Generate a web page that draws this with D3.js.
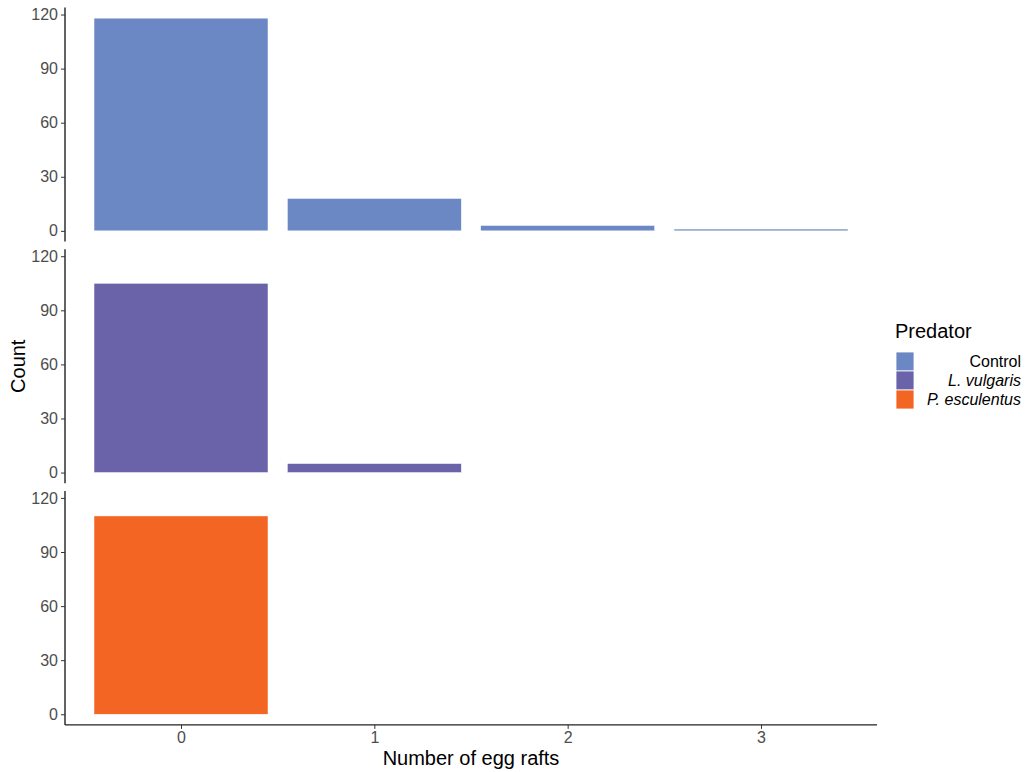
<!DOCTYPE html>
<html>
<head>
<meta charset="utf-8">
<script src="https://cdn.jsdelivr.net/npm/d3@7"></script>
<style>
  body { margin: 0; background: #fff; }
  svg { display: block; font-family: "Liberation Sans", Arial, sans-serif; }
</style>
</head>
<body>
<div id="chart"></div>
<script>
const rafts = ["0", "1", "2", "3"];
const predators = ["Control", "L. vulgaris", "P. esculentus"];
const controlCounts = [118, 18, 3, 1];
const vulgarisCounts = [105, 5, 0, 0];
const esculentusCounts = [110, 0, 0, 0];
const yTicks = [0, 30, 60, 90, 120];
const colors = ["#6c88c4", "#6b63aa", "#f26522"];

const series = [controlCounts, vulgarisCounts, esculentusCounts];

const width = 1032, height = 772;
const margin = { left: 65, right: 877 };
const panelTop = 7.5, panelH = 234, panelGap = 7.7;
const tickFont = '16px', titleFont = '20px';

const svg = d3.select('#chart').append('svg')
  .attr('width', width)
  .attr('height', height);

// discrete x with ggplot's 0.6 expansion
const x = d3.scaleLinear().domain([-0.6, 3.6]).range([margin.left, margin.right]);
const barW = (x(1) - x(0)) * 0.9;

const yMax = d3.max(series.flat());
const pad = yMax * 0.05;

series.forEach((vals, i) => {
  const top = panelTop + i * (panelH + panelGap);
  const y = d3.scaleLinear().domain([-pad, yMax + pad]).range([top + panelH, top]);
  const g = svg.append('g');

  g.selectAll('rect')
    .data(rafts.map((r, j) => ({ r: +r, v: vals[j] })).filter(d => d.v > 0))
    .join('rect')
    .attr('x', d => x(d.r) - barW / 2)
    .attr('width', barW)
    .attr('y', d => y(d.v))
    .attr('height', d => y(0) - y(d.v))
    .attr('fill', colors[i])
    .attr('stroke', '#fff')
    .attr('stroke-width', 0.5);

  const ax = g.append('g')
    .attr('transform', `translate(${margin.left},0)`)
    .call(d3.axisLeft(y).tickValues(yTicks).tickSize(4).tickPadding(3));
  ax.attr('font-size', null).attr('font-family', null);
  ax.select('.domain').attr('stroke', '#222').attr('stroke-width', 1.4)
    .attr('d', `M0,${top}V${top + panelH}`);
  ax.selectAll('.tick line').attr('stroke', '#333').attr('stroke-width', 1);
  ax.selectAll('.tick text').attr('fill', '#4d4d4d').style('font-size', tickFont);

  if (i === series.length - 1) {
    const xa = svg.append('g')
      .attr('transform', `translate(0,${top + panelH})`)
      .call(d3.axisBottom(x).tickValues(rafts.map(Number)).tickFormat(d3.format('d')).tickSize(4).tickPadding(3));
    xa.attr('font-size', null).attr('font-family', null);
    xa.select('.domain').attr('stroke', '#222').attr('stroke-width', 1.4)
      .attr('d', `M${margin.left},0H${margin.right}`);
    xa.selectAll('.tick line').attr('stroke', '#333');
    xa.selectAll('.tick text').attr('fill', '#4d4d4d').style('font-size', tickFont);
  }
});

svg.append('text')
  .attr('x', (margin.left + margin.right) / 2)
  .attr('y', 765)
  .attr('text-anchor', 'middle')
  .style('font-size', titleFont)
  .text('Number of egg rafts');

svg.append('text')
  .attr('transform', `translate(25,${(panelTop + 725) / 2}) rotate(-90)`)
  .attr('text-anchor', 'middle')
  .style('font-size', titleFont)
  .text('Count');

// legend
const leg = svg.append('g').attr('transform', 'translate(895,0)');
leg.append('text').attr('x', 0).attr('y', 338).style('font-size', titleFont).text('Predator');
predators.forEach((p, i) => {
  const ky = 352 + i * 19;
  leg.append('rect').attr('x', 1).attr('y', ky).attr('width', 18).attr('height', 19)
    .attr('fill', colors[i]).attr('stroke', '#fff').attr('stroke-width', 0.8);
  leg.append('text').attr('x', 126).attr('y', ky + 15)
    .attr('text-anchor', 'end')
    .style('font-size', tickFont)
    .style('font-style', i === 0 ? 'normal' : 'italic')
    .text(p);
});
</script>
</body>
</html>
